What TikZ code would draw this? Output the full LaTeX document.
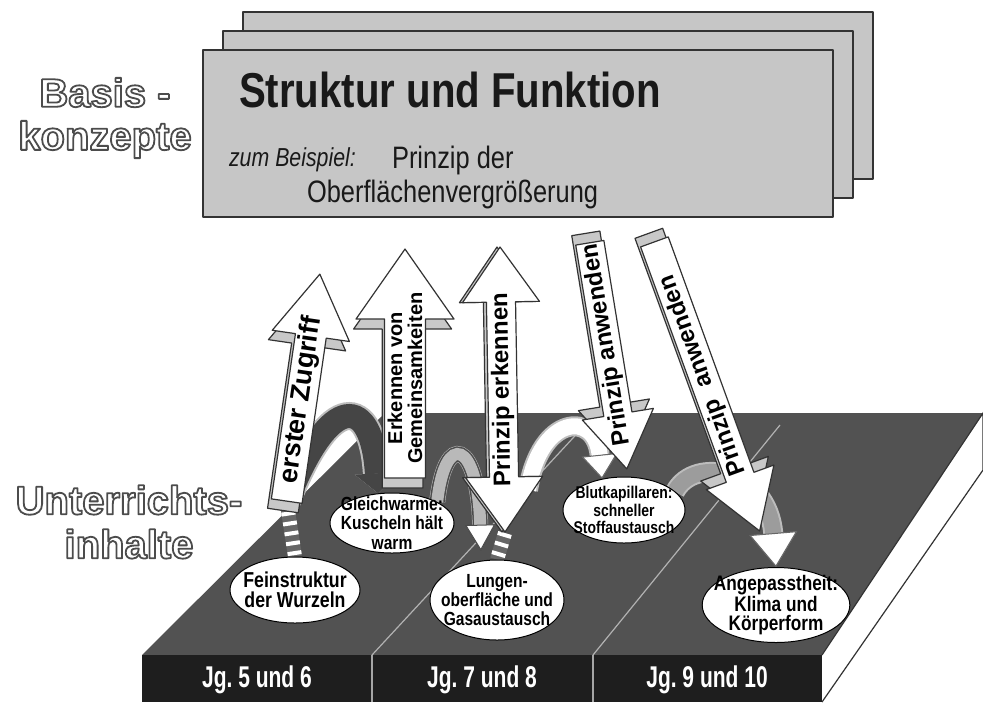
\documentclass[tikz,border=0pt]{standalone}
\usepackage{fontspec}
\setmainfont{Liberation Sans}
\newfontfamily\narrowfont{Liberation Sans}[FakeStretch=0.82]
\newfontfamily\condfont{Liberation Sans}[FakeStretch=0.7]
\usetikzlibrary{shapes.geometric,shapes.arrows,shadows,arrows.meta}
\pgfdeclarelayer{under}
\pgfsetlayers{under,main}
\definecolor{cardgray}{HTML}{C6C6C6}
\definecolor{platetop}{HTML}{525252}
\definecolor{platefront}{HTML}{1E1E1E}
\definecolor{bevelgray}{HTML}{C8C8C8}
\definecolor{rimgray}{HTML}{BDBDBD}
\definecolor{bandgray}{HTML}{9C9C9C}
\definecolor{banddark}{HTML}{454545}
% hohle Schrift: weiss gefuellt, grau umrandet
\newcommand{\hollow}[1]{{\color{white}\special{pdf:literal direct 2 Tr 0.9 w 1 j 0.3 G}#1\special{pdf:literal direct 0 Tr}}}
\begin{document}
\begin{tikzpicture}[x=0.5pt, y=-0.5pt, line join=round,
  card/.style={draw=black!80, line width=1.1pt, fill=cardgray, minimum width=315pt, minimum height=83.5pt, inner sep=0pt},
  bubble/.style={ellipse, draw=black, line width=0.5pt, fill=white, align=center, inner xsep=-5pt, inner ysep=-4pt,
    font=\narrowfont\bfseries\fontsize{9.5}{9.6}\selectfont},
  blockarrow/.style={single arrow, draw=black!80, line width=0.6pt, fill=white, inner sep=0.5pt, anchor=tip},
  bevel/.style 2 args={copy shadow={shadow xshift=#1, shadow yshift=#2, fill=bevelgray, draw=black!80}},
  band/.style={line width=#1, line cap=butt, preaction={draw=rimgray, line width=#1+2pt}},
  stem/.style={line width=7pt, line cap=butt, draw=black!60, postaction={draw=white, dash pattern=on 2pt off 3pt}},
  year/.style={text=white, font=\condfont\bfseries\fontsize{15}{16}\selectfont}]
\useasboundingbox (0,0) rectangle (983,702);
% Basiskonzept: drei Karten
\node[card] (cardback) at (558,95.5) {};
\node[card] (cardmid) at (538,114.5) {};
\node[card] (cardfront) at (518,133.5) {};
\node[text=black!90, font=\narrowfont\bfseries\fontsize{24.5}{26}\selectfont] (title) at (450,90) {Struktur und Funktion};
\node[anchor=base west, text=black!90, font=\narrowfont\itshape\fontsize{13}{14}\selectfont] (beispiel) at (222,166) {zum Beispiel:};
\node[anchor=base west, text=black!90, font=\narrowfont\fontsize{15.5}{16}\selectfont] (prinzip) at (385,168) {Prinzip der};
\node[anchor=base west, text=black!90, font=\narrowfont\fontsize{15.5}{16}\selectfont] (oberflaeche) at (300,202) {Oberflächenvergrößerung};
\node[align=center, font=\bfseries\fontsize{20}{21.5}\selectfont] (basis) at (105,118) {\hollow{Basis -}\\\hollow{konzepte}};
\node[align=center, font=\bfseries\fontsize{20}{22}\selectfont] (inhalte) at (129,522) {\hollow{Unterrichts-}\\\hollow{inhalte}};
% Platte
\begin{pgfonlayer}{under}
\fill[platetop] (142,655) -- (385,413) -- (983,413) -- (822,655) -- cycle;
\draw[black!80, fill=white, line width=0.6pt] (822,655) -- (983,413) -- (983,470) -- (822,702);
\fill[platefront] (142,655) rectangle (822,702);
\draw[gray!60, line width=0.6pt] (372,655) -- (585,425) (593,655) -- (780,425);
\draw[gray!70, line width=0.6pt] (372,655) -- (372,702) (593,655) -- (593,702);
\end{pgfonlayer}
\node[year] (jg56) at (257,680) {Jg.\ 5 und 6};
\node[year] (jg78) at (482,680) {Jg.\ 7 und 8};
\node[year] (jg910) at (707,680) {Jg.\ 9 und 10};
% Unterrichtsinhalte
\node[bubble, minimum width=65pt, minimum height=33pt, font=\narrowfont\bfseries\fontsize{10.8}{10.2}\selectfont] (fein) at (295,590) {Feinstruktur\\der Wurzeln};
\node[bubble, minimum width=62pt, minimum height=30pt] (gleich) at (392,523) {Gleichwarme:\\Kuscheln hält\\warm};
\node[bubble, minimum width=67pt, minimum height=40pt] (lunge) at (497,600) {Lungen-\\oberfläche und\\Gasaustausch};
\node[bubble, minimum width=61pt, minimum height=33pt, font=\narrowfont\bfseries\fontsize{8.5}{8.6}\selectfont] (blut) at (624,510) {Blutkapillaren:\\schneller\\Stoffaustausch};
\node[bubble, minimum width=66.5pt, minimum height=37.5pt, font=\narrowfont\bfseries\fontsize{10.5}{9.6}\selectfont] (angepasst) at (776,605) {Angepasstheit:\\Klima und\\Körperform};
% Blockpfeile
\node[blockarrow, bevel={-1.9pt}{-4.7pt}, rotate=81.7, minimum height=114.7pt, minimum width=39pt,
  single arrow head extend=10.75pt, single arrow tip angle=64,
  font=\bfseries\fontsize{13.5}{14}\selectfont] (zugriff) at (320,273) {erster Zugriff};
\node[blockarrow, bevel={-1.2pt}{-5pt}, rotate=90, minimum height=114.5pt, minimum width=49pt,
  single arrow head extend=13.25pt, single arrow tip angle=70, align=center,
  font=\bfseries\fontsize{10}{10}\selectfont] (gemein) at (405,248) {Erkennen von\\Gemeinsamkeiten};
\node[double arrow, draw=black!80, line width=0.6pt, fill=white, inner sep=0.5pt, bevel={-1.5pt}{0pt},
  rotate=91, minimum height=142.5pt, minimum width=38.5pt,
  double arrow head extend=10.5pt, double arrow tip angle=70,
  font=\bfseries\fontsize{12}{13}\selectfont] (erkennen) at (502.5,389.5) {Prinzip erkennen};
\node[blockarrow, shape border rotate=180, bevel={-2pt}{4.7pt}, rotate=99.3, minimum height=105.4pt, minimum width=36pt,
  single arrow head extend=9.75pt, single arrow tip angle=66,
  font=\bfseries\fontsize{12}{13}\selectfont] (anwendenA) at (627,470) {Prinzip anwenden};
\node[blockarrow, shape border rotate=180, bevel={-2.8pt}{4.3pt}, rotate=110, minimum height=153.8pt, minimum width=36pt,
  single arrow head extend=9.25pt, single arrow tip angle=64.5,
  font=\bfseries\fontsize{12}{13}\selectfont] (anwendenB) at (760,532) {Prinzip\hspace{0.6em}anwenden};
% Bogenpfeile und Stiele
\coordinate (lungeout) at (528,490);
\begin{pgfonlayer}{under}
\draw[band=12pt, draw=banddark, -{Triangle[width=22pt, length=10pt, line width=0.5pt]}]
  (zugriff.tail) .. controls (330,390) and (372,395) .. (gleich.115);
\draw[band=6pt, draw=gray!55, preaction={draw=black!70, line width=7.5pt},
  -{Triangle[width=15pt, length=13pt, line width=0.5pt, color=black!70, fill=white]}, shorten >=5pt]
  (gleich.25) .. controls (445,430) and (478,440) .. (lunge.112);
\draw[band=8pt, draw=white, -{Triangle[width=18pt, length=12pt, line width=0.5pt, color=black!60, fill=white]}]
  (lungeout) .. controls (540,415) and (595,410) .. (blut.125);
\draw[band=8pt, draw=bandgray, -{Triangle[width=24pt, length=17pt, line width=0.5pt, color=black!60, fill=white]}]
  (blut.20) .. controls (695,455) and (768,470) .. (angepasst.north);
\draw[stem] (zugriff.tail) -- (fein.north);
\draw[stem] (erkennen.west) -- (lunge.north);
\end{pgfonlayer}
\end{tikzpicture}
\end{document}
